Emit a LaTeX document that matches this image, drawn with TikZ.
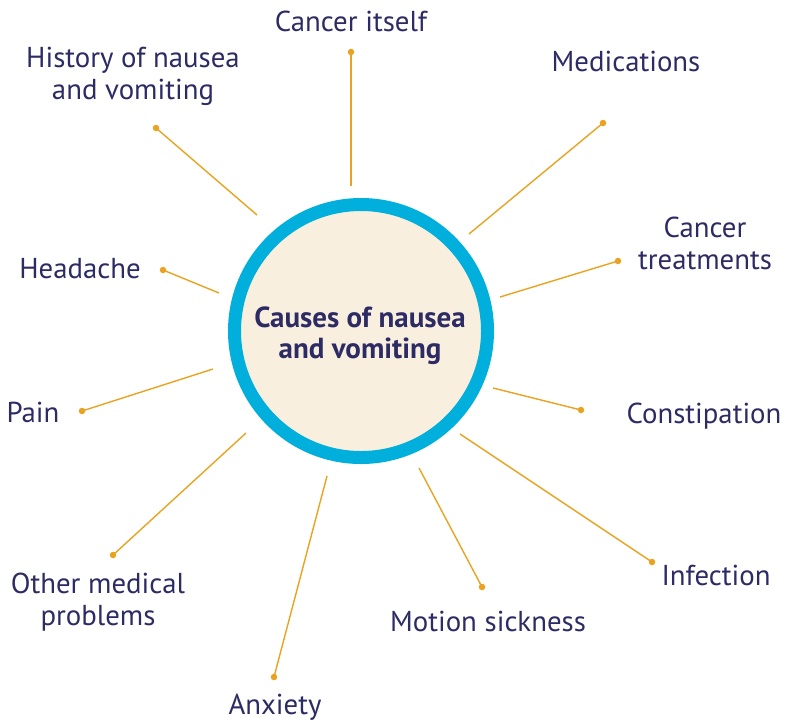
\documentclass[tikz,border=0pt]{standalone}
\usepackage{fontspec}
\setmainfont{PT Sans}
\usepackage{tikz}
\usetikzlibrary{positioning}
\definecolor{navy}{RGB}{45,43,99}
\definecolor{amber}{RGB}{233,163,32}
\definecolor{ringblue}{RGB}{0,175,219}
\definecolor{cream}{RGB}{249,239,223}
\tikzstyle{spoke} = [draw, amber, line width=1.4pt]

\begin{document}
\begin{tikzpicture}[x=1pt, y=-1pt,
  cause/.style={text=navy, font=\fontsize{28.8}{32}\selectfont,
  align=center, anchor=base, inner sep=0pt},
  endpt/.style={circle, fill=amber, inner sep=0pt, minimum size=6.5pt},
  hub/.style={circle, draw=ringblue, line width=13pt, fill=cream,
  minimum size=253pt, inner sep=0pt},
  title/.style={text=navy, font=\fontsize{29}{31}\selectfont\bfseries,
  align=center, anchor=base, inner sep=0pt}]
  \useasboundingbox (0,0) rectangle (791,724);
  %% The centre
  \node [hub] (hub) at (361,331) {};
  \node [title] (title) at (360,358) {Causes of nausea\\and vomiting};
  %% Causes (base = baseline of the last line)
  \node [cause] (itself) at (351,31) {Cancer itself};
  \node [cause] (medications) at (626,71) {Medications};
  \node [cause] (treatments) at (705,269) {Cancer\\treatments};
  \node [cause] (constipation) at (704,423) {Constipation};
  \node [cause] (infection) at (716,585) {Infection};
  \node [cause] (motion) at (488,631) {Motion sickness};
  \node [cause] (anxiety) at (275,714) {Anxiety};
  \node [cause] (other) at (98,625) {Other medical\\problems};
  \node [cause] (pain) at (33,422) {Pain};
  \node [cause] (headache) at (80,278) {Headache};
  \node [cause] (history) at (133,99) {History of nausea\\and vomiting};
  %% Dots
  \node [endpt] (d_itself) at (351,52) {};
  \node [endpt] (d_medications) at (603,123) {};
  \node [endpt] (d_treatments) at (618,261) {};
  \node [endpt] (d_constipation) at (581,410) {};
  \node [endpt] (d_infection) at (652,562) {};
  \node [endpt] (d_motion) at (482,587) {};
  \node [endpt] (d_anxiety) at (274,677) {};
  \node [endpt] (d_other) at (113,555) {};
  \node [endpt] (d_pain) at (82,411) {};
  \node [endpt] (d_headache) at (163,270) {};
  \node [endpt] (d_history) at (156,128) {};
  %% Inner ends, just off the ring
  \coordinate (i_itself) at (351,186);
  \coordinate (i_medications) at (469,234);
  \coordinate (i_treatments) at (500,297);
  \coordinate (i_constipation) at (493,388);
  \coordinate (i_infection) at (460,434);
  \coordinate (i_motion) at (419,468);
  \coordinate (i_anxiety) at (327,476);
  \coordinate (i_other) at (246,433);
  \coordinate (i_pain) at (213,369);
  \coordinate (i_headache) at (219,293);
  \coordinate (i_history) at (257,215);
  %% Spokes
  \path [spoke] (i_itself) to (d_itself.center);
  \path [spoke] (i_medications) to (d_medications.center);
  \path [spoke] (i_treatments) to (d_treatments.center);
  \path [spoke] (i_constipation) to (d_constipation.center);
  \path [spoke] (i_infection) to (d_infection.center);
  \path [spoke] (i_motion) to (d_motion.center);
  \path [spoke] (i_anxiety) to (d_anxiety.center);
  \path [spoke] (i_other) to (d_other.center);
  \path [spoke] (i_pain) to (d_pain.center);
  \path [spoke] (i_headache) to (d_headache.center);
  \path [spoke] (i_history) to (d_history.center);
\end{tikzpicture}
\end{document}
